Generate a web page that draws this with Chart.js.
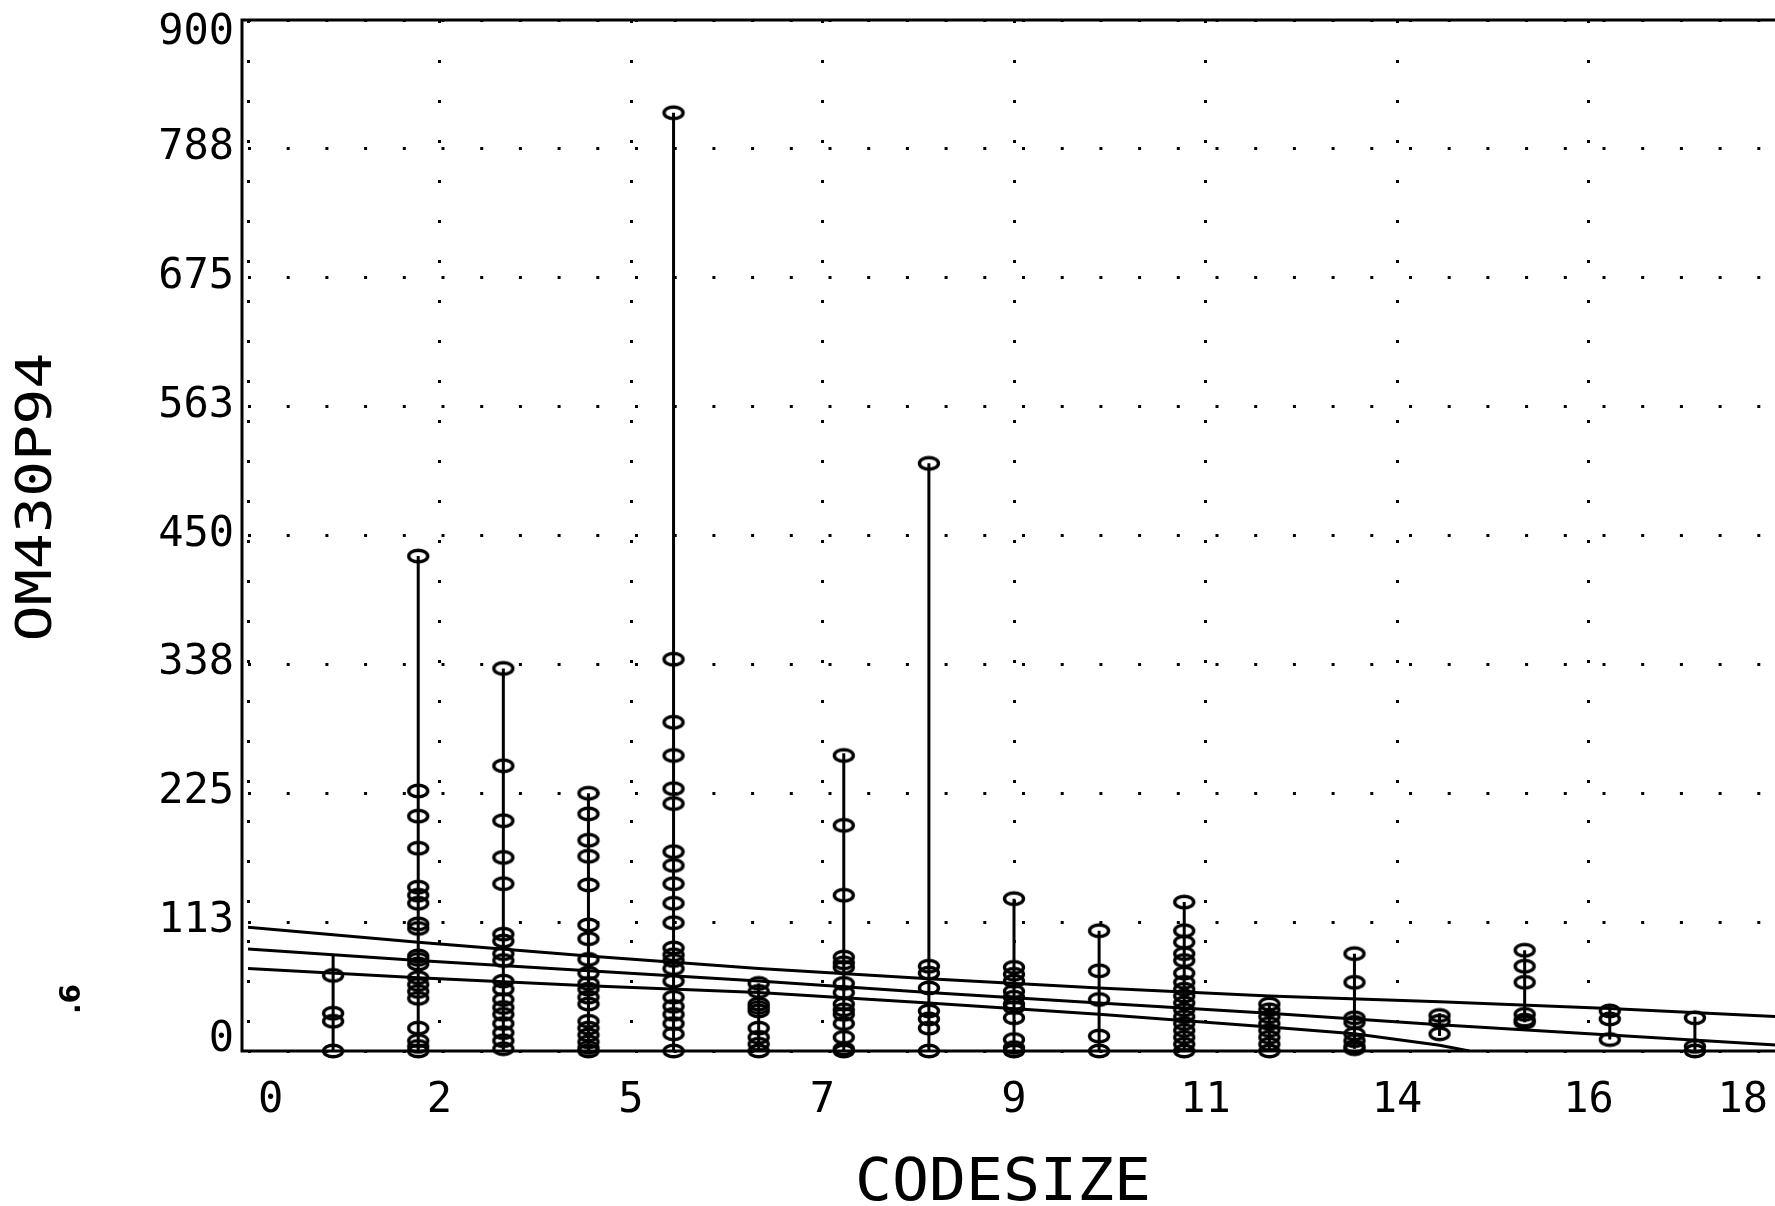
<!DOCTYPE html>
<html>
<head>
<meta charset="utf-8">
<script src="https://cdn.jsdelivr.net/npm/chart.js@4/dist/chart.umd.min.js"></script>
<style>
    html, body { margin: 0; padding: 0; background: #fff; overflow: hidden; }
    #caixa { position: relative; width: 1790px; height: 1206px; }
</style>
</head>
<body>
<div id="caixa"><canvas id="graficoCodesize"></canvas></div>
<script>
/********************************************************************
 * OM430P94 x CODESIZE
 ********************************************************************/

"use strict";

/********************************************************************
 * Dados
 ********************************************************************/
const codesize = [1, 2, 3, 4, 5, 6, 7, 8, 9, 10, 11, 12, 13, 14, 15, 16, 17];

const om430p94 = [
    [66, 33, 26, 0],
    [432, 227, 205, 177, 143, 136, 129, 111, 107, 83, 80, 76, 64, 58, 52, 46, 20, 9, 4, 0],
    [334, 249, 201, 169, 146, 102, 96, 85, 79, 61, 54, 45, 38, 32, 24, 16, 9, 2],
    [225, 207, 184, 170, 145, 110, 98, 80, 68, 59, 54, 47, 41, 26, 20, 14, 8, 3, 0],
    [819, 342, 287, 258, 229, 216, 174, 162, 146, 129, 112, 90, 84, 79, 72, 61, 47, 39, 32, 24, 15, 0],
    [59, 52, 41, 38, 35, 20, 12, 6, 0],
    [258, 197, 136, 82, 77, 73, 59, 51, 41, 36, 32, 24, 12, 2, 0],
    [513, 74, 68, 55, 35, 28, 20, 0],
    [133, 73, 67, 61, 52, 47, 41, 38, 29, 10, 3, 0],
    [105, 70, 45, 13, 0],
    [130, 105, 95, 85, 79, 68, 60, 54, 48, 42, 36, 30, 24, 18, 12, 6, 0],
    [41, 36, 30, 24, 18, 12, 6, 0],
    [85, 60, 29, 25, 15, 9, 4, 2],
    [31, 26, 15],
    [88, 74, 60, 32, 27, 25],
    [35, 28, 10],
    [29, 4, 0]
];

// extremos das hastes verticais
const hasteMin = [0, 0, 0, 0, 0, 0, 0, 0, 0, 0, 0, 0, 2, 13, 25, 10, 0];
const hasteMax = [83, 432, 334, 225, 819, 59, 260, 513, 133, 105, 130, 41, 85, 33, 88, 37, 30];

// reta ajustada e faixas
const retaX = [0, 2, 4, 6, 8, 10, 12, 14, 16, 18];
const faixaSuperior = [108, 95, 83, 72, 63, 55, 48, 43, 37, 30];
const retaAjuste = [89, 79, 70, 61, 51, 42, 33, 23, 14, 5];

const faixaInferiorX = [0, 2, 4, 6, 8, 10, 12, 13, 14, 14.35];
const faixaInferior = [72, 64, 57, 51, 42, 32, 21, 15, 5, 0];

// eixos
const rotulosX = ["0", "2", "5", "7", "9", "11", "14", "16", "18"];
const rotulosY = ["0", "113", "225", "338", "450", "563", "675", "788", "900"];

const passoX = 2.25;
const passoY = 112.5;

/********************************************************************
 * Marcador elíptico (estilo plotter)
 ********************************************************************/
function criarMarcador() {

    const c = document.createElement("canvas");

    c.width = 26;
    c.height = 18;

    const g = c.getContext("2d");

    g.strokeStyle = "#000";
    g.lineWidth = 3.4;

    g.beginPath();
    g.ellipse(13, 9, 9.5, 5.8, 0, 0, 2 * Math.PI);
    g.stroke();

    return c;

}

/********************************************************************
 * Monta os conjuntos
 ********************************************************************/
function montarPontos() {

    const pontos = [];

    codesize.forEach((x, i) => {

        om430p94[i].forEach(v => pontos.push({ x: x, y: v }));

    });

    return pontos;

}

function montarHastes() {

    const hastes = [];

    codesize.forEach((x, i) => {

        hastes.push({ x: x, y: hasteMin[i] });
        hastes.push({ x: x, y: hasteMax[i] });
        hastes.push({ x: x, y: null });

    });

    return hastes;

}

function montarLinha(xs, ys) {

    return xs.map((x, i) => ({ x: x, y: ys[i] }));

}

/********************************************************************
 * Moldura, rótulos e títulos
 ********************************************************************/
const fonteTicks = "42px 'DejaVu Sans Mono', monospace";

const pluginMoldura = {

    id: "moldura",

    afterDraw(chart) {

        const ctx = chart.ctx;
        const area = chart.chartArea;
        const escX = chart.scales.x;
        const escY = chart.scales.y;
        const larguraVisivel = document.documentElement.clientWidth;

        ctx.save();

        ctx.strokeStyle = "#000";
        ctx.lineWidth = 3;

        // eixo esquerdo fica um pouco antes do zero, como no original
        const esquerda = area.left - 6;

        ctx.beginPath();
        ctx.moveTo(area.right, area.top);
        ctx.lineTo(esquerda, area.top);
        ctx.lineTo(esquerda, area.bottom);
        ctx.lineTo(area.right, area.bottom);
        ctx.stroke();

        ctx.fillStyle = "#000";
        ctx.font = fonteTicks;
        ctx.textBaseline = "alphabetic";

        // rótulos do eixo Y
        ctx.textAlign = "right";

        rotulosY.forEach((t, i) => {

            const py = escY.getPixelForValue(i * passoY);

            let base = py + 10;

            if (i === 0) base = py;

            if (i === rotulosY.length - 1) base = py + 24;

            ctx.fillText(t, esquerda - 8, base);

        });

        // rótulos do eixo X
        const baseX = area.bottom + 61;

        rotulosX.forEach((t, i) => {

            const px = escX.getPixelForValue(i * passoX);

            if (i === 0) {

                ctx.textAlign = "left";
                ctx.fillText(t, px + 10, baseX);

            } else if (i === rotulosX.length - 1) {

                ctx.textAlign = "right";
                ctx.fillText(t, Math.min(px, larguraVisivel) - 7, baseX);

            } else {

                ctx.textAlign = "center";
                ctx.fillText(t, px, baseX);

            }

        });

        // título X
        ctx.save();
        ctx.translate(area.left + 755, area.bottom + 149);
        ctx.scale(1.06, 1);
        ctx.font = "58px 'DejaVu Sans Mono', monospace";
        ctx.textAlign = "center";
        ctx.fillText("CODESIZE", 0, 0);
        ctx.restore();

        // título Y
        ctx.save();
        ctx.translate(38, 497);
        ctx.rotate(-Math.PI / 2);
        ctx.scale(1.2, 1);
        ctx.font = "50px 'DejaVu Sans Mono', monospace";
        ctx.textAlign = "center";
        ctx.textBaseline = "middle";
        ctx.fillText("OM430P94", 0, 0);
        ctx.restore();

        // marca pequena
        ctx.save();
        ctx.translate(73, 999);
        ctx.rotate(-Math.PI / 2);
        ctx.font = "bold 28px 'DejaVu Sans', sans-serif";
        ctx.textAlign = "center";
        ctx.textBaseline = "middle";
        ctx.fillText(".6", 0, 0);
        ctx.restore();

        ctx.restore();

    }

};

/********************************************************************
 * Cria gráfico
 ********************************************************************/
function criarGrafico() {

    const canvas = document.getElementById("graficoCodesize");

    if (!canvas) return;

    const marcador = criarMarcador();

    new Chart(canvas, {

        type: "scatter",

        data: {

            datasets: [

                {
                    label: "hastes",
                    data: montarHastes(),
                    showLine: true,
                    spanGaps: false,
                    borderColor: "#000",
                    borderWidth: 3,
                    pointRadius: 0
                },

                {
                    label: "OM430P94",
                    data: montarPontos(),
                    pointStyle: marcador,
                    pointRadius: 9,
                    clip: false
                },

                {
                    label: "faixa superior",
                    data: montarLinha(retaX, faixaSuperior),
                    showLine: true,
                    borderColor: "#000",
                    borderWidth: 3,
                    pointRadius: 0
                },

                {
                    label: "reta",
                    data: montarLinha(retaX, retaAjuste),
                    showLine: true,
                    borderColor: "#000",
                    borderWidth: 3,
                    pointRadius: 0
                },

                {
                    label: "faixa inferior",
                    data: montarLinha(faixaInferiorX, faixaInferior),
                    showLine: true,
                    borderColor: "#000",
                    borderWidth: 3,
                    pointRadius: 0
                }

            ]

        },

        options: {

            responsive: true,

            maintainAspectRatio: false,

            animation: false,

            layout: {

                padding: { left: 248, top: 20, right: 8, bottom: 155 }

            },

            plugins: {

                legend: { display: false },

                tooltip: { enabled: false }

            },

            scales: {

                x: {

                    type: "linear",

                    min: 0,

                    max: 18,

                    ticks: { display: false, stepSize: passoX },

                    grid: { color: "#000", lineWidth: 3, drawTicks: false },

                    border: { display: false, dash: [3, 37] }

                },

                y: {

                    type: "linear",

                    min: 0,

                    max: 900,

                    ticks: { display: false, stepSize: passoY },

                    grid: { color: "#000", lineWidth: 3, drawTicks: false },

                    border: { display: false, dash: [3, 35.7] }

                }

            }

        },

        plugins: [pluginMoldura]

    });

}

criarGrafico();
</script>
</body>
</html>
